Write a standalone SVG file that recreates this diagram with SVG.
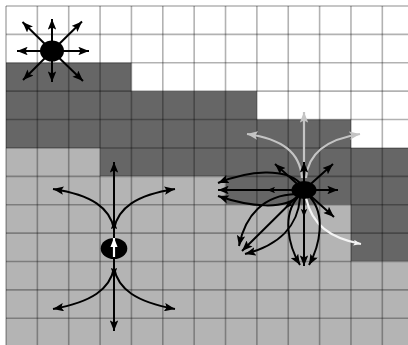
<svg xmlns="http://www.w3.org/2000/svg" width="408" height="345" viewBox="0 0 408 345">
<style>
.k{fill:none;stroke:#000;stroke-width:2;marker-end:url(#a)}
.km{marker-mid:url(#m)}
.g{fill:none;stroke:#c4c4c4;stroke-width:2.2;marker-end:url(#ag)}
.w{fill:none;stroke:#f4f4f4;stroke-width:2.2;marker-end:url(#aw)}
.grid line{stroke:#000;stroke-opacity:0.3;stroke-width:1.6}
</style>
<defs>
<marker id="a" viewBox="0 0 10 8" refX="10" refY="4" markerWidth="11" markerHeight="8.5" markerUnits="userSpaceOnUse" orient="auto"><path d="M0,0 L10,4 L0,8 L2,4 z" fill="#000"/></marker>
<marker id="m" viewBox="0 0 10 8" refX="5" refY="4" markerWidth="8" markerHeight="6.5" markerUnits="userSpaceOnUse" orient="auto"><path d="M0,0 L10,4 L0,8 L2,4 z" fill="#000"/></marker>
<marker id="ag" viewBox="0 0 10 8" refX="10" refY="4" markerWidth="11" markerHeight="8.5" markerUnits="userSpaceOnUse" orient="auto"><path d="M0,0 L10,4 L0,8 L2,4 z" fill="#c4c4c4"/></marker>
<marker id="aw" viewBox="0 0 10 8" refX="10" refY="4" markerWidth="9" markerHeight="6" markerUnits="userSpaceOnUse" orient="auto"><path d="M0,0 L10,4 L0,8 L2,4 z" fill="#f4f4f4"/></marker>
<marker id="awi" viewBox="0 0 10 8" refX="10" refY="4" markerWidth="9" markerHeight="9" markerUnits="userSpaceOnUse" orient="auto"><path d="M0,0 L10,4 L0,8 z" fill="#fff"/></marker>
</defs>
<rect width="408" height="345" fill="#fff"/>
<g id="terrain">
<polygon fill="#666" points="6,62.78 131.44,62.78 131.44,91.17 256.88,91.17 256.88,119.56 350.96,119.56 350.96,147.95 408,147.95 408,261.51 350.96,261.51 350.96,204.73 225.52,204.73 225.52,176.34 100.08,176.34 100.08,147.95 6,147.95"/>
<polygon fill="#b4b4b4" points="6,147.95 100.08,147.95 100.08,176.34 225.52,176.34 225.52,204.73 350.96,204.73 350.96,261.51 408,261.51 408,345 6,345"/>
</g>
<g class="grid">
<line x1="6" y1="6" x2="6" y2="345"/><line x1="37.36" y1="6" x2="37.36" y2="345"/><line x1="68.72" y1="6" x2="68.72" y2="345"/><line x1="100.08" y1="6" x2="100.08" y2="345"/><line x1="131.44" y1="6" x2="131.44" y2="345"/><line x1="162.8" y1="6" x2="162.8" y2="345"/><line x1="194.16" y1="6" x2="194.16" y2="345"/><line x1="225.52" y1="6" x2="225.52" y2="345"/><line x1="256.88" y1="6" x2="256.88" y2="345"/><line x1="288.24" y1="6" x2="288.24" y2="345"/><line x1="319.6" y1="6" x2="319.6" y2="345"/><line x1="350.96" y1="6" x2="350.96" y2="345"/><line x1="382.32" y1="6" x2="382.32" y2="345"/>
<line x1="6" y1="6" x2="408" y2="6"/><line x1="6" y1="34.39" x2="408" y2="34.39"/><line x1="6" y1="62.78" x2="408" y2="62.78"/><line x1="6" y1="91.17" x2="408" y2="91.17"/><line x1="6" y1="119.56" x2="408" y2="119.56"/><line x1="6" y1="147.95" x2="408" y2="147.95"/><line x1="6" y1="176.34" x2="408" y2="176.34"/><line x1="6" y1="204.73" x2="408" y2="204.73"/><line x1="6" y1="233.12" x2="408" y2="233.12"/><line x1="6" y1="261.51" x2="408" y2="261.51"/><line x1="6" y1="289.9" x2="408" y2="289.9"/><line x1="6" y1="318.29" x2="408" y2="318.29"/>
</g>
<g id="connectors">
<path class="k" d="M52,51 L52,19"/>
<path class="k" d="M52,51 L52,82"/>
<path class="k" d="M52,51 L17,51"/>
<path class="k" d="M52,51 L89,51"/>
<path class="k" d="M52,51 L22.5,22"/>
<path class="k" d="M52,51 L82,21.5"/>
<path class="k" d="M52,51 L23,80"/>
<path class="k" d="M52,51 L83,81"/>
<path class="k km" d="M114,240 L114,225 L114,162"/>
<path class="k km" d="M114,257 L114,272 L114,331"/>
<path class="k" d="M114,229 C110,208 92,195 53,189"/>
<path class="k" d="M114,229 C118,208 136,195 175,189"/>
<path class="k" d="M114,268 C110,289 92,302 53,309"/>
<path class="k" d="M114,268 C118,289 136,302 175,309"/>
<path class="g" d="M304,172 L304,112"/>
<path class="g" d="M302,178 C300,152 282,139 247,134"/>
<path class="g" d="M306,178 C308,152 328,139 360,134"/>
<path class="w" d="M306,198 C312,225 330,238 361,244"/>
<path class="k" d="M304,190 L304,162"/>
<path class="k" d="M304,190 L275,164"/>
<path class="k" d="M304,190 L333,164"/>
<path class="k" d="M304,190 L338,190"/>
<path class="k" d="M304,190 L334,217"/>
<path class="k km" d="M304,190 L271,190 L218,190"/>
<path class="k km" d="M304,190 L304,213 L304,266"/>
<path class="k km" d="M304,190 L288,205.5 L242,251"/>
<path class="k" d="M300,183 C285,168 250,170 218,183"/>
<path class="k" d="M298,196 C285,210 250,207 218,196"/>
<path class="k" d="M298,197 C282,215 288,245 300,265"/>
<path class="k" d="M310,197 C326,215 320,245 309,265"/>
<path class="k" d="M296,194 C264,195 245,215 239,246"/>
<path class="k" d="M300,198 C298,225 280,245 245,254"/>
</g>
<g id="source-top-left"><ellipse cx="52" cy="51" rx="12" ry="10.5" fill="#000"/></g>
<g id="source-middle"><ellipse cx="114" cy="248.5" rx="13.3" ry="10.5" fill="#000"/><path d="M114,257 L114,238" stroke="#fff" stroke-width="2.2" fill="none" marker-end="url(#awi)"/></g>
<g id="source-right"><ellipse cx="304" cy="190" rx="12.5" ry="9" fill="#000"/></g>
</svg>
